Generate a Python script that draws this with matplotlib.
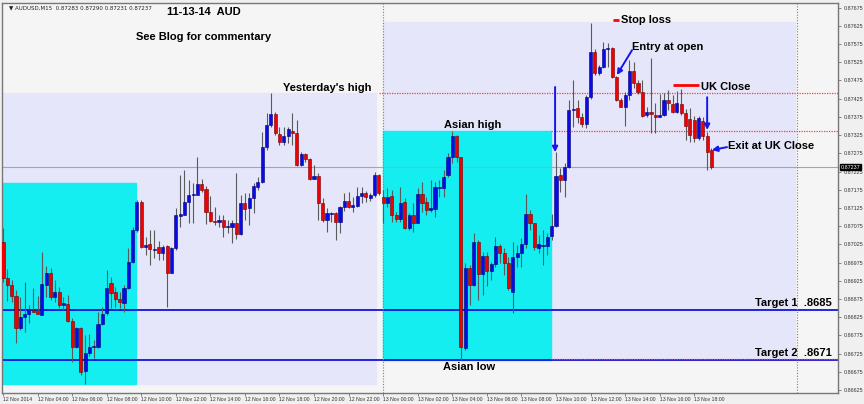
import numpy as np
import matplotlib
matplotlib.use("Agg")
import matplotlib.pyplot as plt
from matplotlib.patches import Rectangle

# AUDUSD M15, 12 Nov 02:00 -> 13 Nov 19:00, prices in 1e-5 units
opens = [87032, 86933, 86914, 86883, 86796, 86826, 86834, 86845, 86842, 86831,
         86914, 86947, 86881, 86894, 86859, 86861, 86815, 86744, 86796, 86678,
         86727, 86744, 86744, 86807, 86837, 86919, 86894, 86875, 86864, 86905,
         86977, 87065, 87141, 87018, 87026, 87010, 87018, 87002, 87021, 86947,
         87015, 87103, 87106, 87141, 87161, 87161, 87191, 87177, 87114, 87089,
         87087, 87092, 87073, 87073, 87084, 87054, 87139, 87125, 87152, 87183,
         87196, 87292, 87353, 87383, 87328, 87306, 87323, 87336, 87331, 87243,
         87273, 87259, 87205, 87213, 87139, 87092, 87109, 87111, 87087, 87128,
         87144, 87128, 87130, 87158, 87166, 87152, 87161, 87216, 87155, 87139,
         87158, 87106, 87095, 87141, 87070, 87106, 87084, 87163, 87141, 87119,
         87122, 87180, 87180, 87216, 87265, 87323, 87265, 86741, 86960, 86914,
         87032, 86944, 86993, 86952, 86971, 87021, 87002, 86974, 86894, 86990,
         87002, 87026, 87109, 87084, 87015, 87021, 87021, 87048, 87076, 87216,
         87202, 87238, 87394, 87399, 87375, 87356, 87430, 87553, 87496, 87512,
         87561, 87564, 87485, 87421, 87402, 87435, 87501, 87468, 87443, 87380,
         87389, 87380, 87375, 87380, 87421, 87410, 87389, 87410, 87386, 87369,
         87367, 87317, 87364, 87323, 87283]
highs = [87070, 86958, 86927, 86900, 86881, 86922, 86859, 86905, 86883, 87004,
         86966, 86960, 86927, 86908, 86881, 86886, 86823, 86798, 86798, 86776,
         86779, 86763, 86840, 86853, 86955, 86936, 86908, 86894, 86914, 87015,
         87073, 87147, 87147, 87045, 87065, 87065, 87034, 87023, 87023, 87018,
         87125, 87216, 87229, 87202, 87194, 87265, 87205, 87185, 87158, 87128,
         87106, 87106, 87092, 87092, 87221, 87161, 87166, 87166, 87194, 87210,
         87334, 87386, 87441, 87389, 87347, 87347, 87347, 87386, 87367, 87279,
         87276, 87262, 87243, 87221, 87152, 87125, 87114, 87114, 87130, 87166,
         87169, 87155, 87183, 87183, 87172, 87166, 87224, 87218, 87174, 87180,
         87174, 87114, 87183, 87152, 87111, 87139, 87180, 87196, 87155, 87202,
         87196, 87202, 87229, 87276, 87336, 87325, 87265, 86974, 86969, 87056,
         87037, 87004, 87004, 86977, 87045, 87026, 87015, 86990, 87032, 87023,
         87043, 87163, 87119, 87084, 87051, 87065, 87056, 87109, 87279, 87235,
         87249, 87421, 87476, 87421, 87386, 87435, 87633, 87561, 87518, 87581,
         87578, 87567, 87487, 87427, 87443, 87531, 87526, 87476, 87476, 87402,
         87537, 87413, 87438, 87441, 87449, 87435, 87446, 87452, 87397, 87399,
         87378, 87378, 87375, 87334, 87290]
lows = [86922, 86870, 86867, 86754, 86790, 86785, 86809, 86840, 86834, 86831,
        86881, 86872, 86867, 86850, 86845, 86812, 86702, 86741, 86667, 86642,
        86719, 86713, 86741, 86804, 86831, 86850, 86853, 86850, 86840, 86903,
        86974, 87059, 87015, 86996, 86969, 86988, 86982, 86982, 86853, 86947,
        87010, 87073, 87106, 87084, 87084, 87161, 87169, 87081, 87087, 87078,
        87073, 87045, 87056, 87029, 87040, 87051, 87092, 87078, 87111, 87174,
        87194, 87284, 87347, 87325, 87298, 87298, 87303, 87298, 87240, 87240,
        87251, 87202, 87205, 87092, 87087, 87059, 87087, 87037, 87056, 87117,
        87125, 87114, 87128, 87139, 87141, 87144, 87155, 87161, 87084, 87128,
        87087, 87087, 87087, 87067, 87065, 87059, 87084, 87114, 87106, 87114,
        87100, 87155, 87155, 87210, 87249, 87251, 86708, 86735, 86859, 86911,
        86872, 86886, 86911, 86927, 86963, 86974, 86941, 86900, 86837, 86963,
        86963, 87015, 87065, 87010, 87002, 86969, 86996, 87037, 87073, 87169,
        87155, 87235, 87347, 87358, 87347, 87345, 87424, 87490, 87490, 87509,
        87512, 87482, 87419, 87402, 87350, 87421, 87454, 87438, 87375, 87375,
        87331, 87331, 87375, 87378, 87394, 87386, 87386, 87380, 87312, 87306,
        87306, 87312, 87312, 87229, 87231]
closes = [86933, 86914, 86883, 86796, 86826, 86834, 86848, 86840, 86834, 86916,
          86947, 86881, 86894, 86859, 86864, 86815, 86744, 86796, 86675, 86727,
          86744, 86746, 86807, 86834, 86905, 86892, 86875, 86867, 86905, 86977,
          87065, 87141, 87018, 87023, 87012, 87012, 87002, 87018, 86947, 87015,
          87106, 87109, 87141, 87161, 87163, 87191, 87174, 87114, 87089, 87087,
          87092, 87073, 87076, 87084, 87054, 87139, 87122, 87152, 87185, 87196,
          87292, 87353, 87383, 87331, 87306, 87323, 87342, 87331, 87243, 87273,
          87259, 87205, 87213, 87139, 87092, 87111, 87111, 87087, 87128, 87144,
          87128, 87133, 87158, 87166, 87155, 87161, 87216, 87166, 87139, 87155,
          87106, 87095, 87139, 87070, 87106, 87084, 87163, 87139, 87119, 87125,
          87183, 87183, 87210, 87265, 87323, 87265, 86744, 86960, 86914, 87032,
          86944, 86993, 86952, 86971, 87021, 87002, 86974, 86905, 86990, 87002,
          87026, 87109, 87084, 87018, 87026, 87023, 87045, 87076, 87213, 87202,
          87238, 87394, 87397, 87375, 87356, 87430, 87553, 87496, 87512, 87561,
          87564, 87485, 87421, 87402, 87435, 87501, 87468, 87443, 87378, 87389,
          87383, 87375, 87380, 87421, 87413, 87389, 87413, 87386, 87350, 87325,
          87317, 87372, 87323, 87279, 87237]

time_labels = ["12 Nov 2014", "12 Nov 04:00", "12 Nov 06:00", "12 Nov 08:00",
               "12 Nov 10:00", "12 Nov 12:00", "12 Nov 14:00", "12 Nov 16:00",
               "12 Nov 18:00", "12 Nov 20:00", "12 Nov 22:00", "13 Nov 00:00",
               "13 Nov 02:00", "13 Nov 04:00", "13 Nov 06:00", "13 Nov 08:00",
               "13 Nov 10:00", "13 Nov 12:00", "13 Nov 14:00", "13 Nov 16:00",
               "13 Nov 18:00"]
bars_per_label = 8

# levels
yest_high, yest_low = 0.87441, 0.86642
asian_high, asian_low = 0.87336, 0.86708
target1, target2 = 0.86845, 0.86708
prev_asian_top = 0.87193
today_top = 0.87635
bid = 0.87237
stop_loss = 0.87641
uk_close = 0.87463
day_start = 88        # 13 Nov 00:00
asian_end = 126.9
today_end = 183.3
shift_line = 183.8

o = np.array(opens) / 1e5
h = np.array(highs) / 1e5
l = np.array(lows) / 1e5
c = np.array(closes) / 1e5
x = np.arange(len(o))

fig = plt.figure(figsize=(8.64, 4.04), dpi=100, facecolor="#f0f0f0")
ax = fig.add_axes([2 / 864, 11 / 404, 836 / 864, 390.5 / 404])
ax.set_facecolor("#f5f5f5")
ax.set_xlim(-0.23, 193.29)
ax.set_ylim(0.86617, 0.87689)

lav = "#e6e6fa"
cyan = "#14eef0"
ax.add_patch(Rectangle((-0.5, yest_low), day_start - 1.2, yest_high - yest_low, color=lav, zorder=0))
ax.add_patch(Rectangle((-0.5, yest_low), 31.3, prev_asian_top - yest_low, color=cyan, zorder=1))
ax.add_patch(Rectangle((day_start, asian_low), today_end - day_start, today_top - asian_low, color=lav, zorder=0))
ax.add_patch(Rectangle((day_start, asian_low), asian_end - day_start, asian_high - asian_low, color=cyan, zorder=1))

# level lines
ax.axhline(target1, color="#0000dd", lw=1.2, zorder=2)
ax.axhline(target2, color="#0000dd", lw=1.2, zorder=2)
ax.axhline(bid, color="#a0a4b4", lw=0.8, zorder=2)
red_dot = dict(color="#ff3a3a", lw=0.9, ls=(0, (1, 1)), zorder=2)
ax.hlines(yest_high, day_start - 1, 193.3, **red_dot)
ax.hlines(asian_high, asian_end, 193.3, **red_dot)
ax.hlines(asian_low + 0.00002, asian_end, 193.3, **red_dot)
ax.axvline(day_start, color="#808080", lw=0.8, ls=(0, (1, 1.5)), zorder=2)
ax.axvline(shift_line, color="#808080", lw=0.8, ls=(0, (1, 1.5)), zorder=2)

# candles
up = c >= o
ax.vlines(x, l, h, color="#5a5a5a", lw=0.8, zorder=3)
body_lo = np.minimum(o, c)
body_h = np.maximum(np.abs(c - o), 0.00002)
ax.bar(x[up], body_h[up], bottom=body_lo[up], width=0.72, color="#0a0ae6",
       edgecolor="#000070", lw=0.4, zorder=4)
ax.bar(x[~up], body_h[~up], bottom=body_lo[~up], width=0.72, color="#f00000",
       edgecolor="#700000", lw=0.4, zorder=4)

# annotations
fnt = dict(fontsize=8, fontweight="bold", family="Liberation Sans", color="black", zorder=6)
ax.text(38.0, 0.87663, "11-13-14  AUD", va="center", **fnt)
ax.text(30.8, 0.87594, "See Blog for commentary", va="center", **fnt)
ax.text(64.8, 0.87454, "Yesterday's high", va="center", **fnt)
ax.text(102.1, 0.87352, "Asian high", va="center", **fnt)
ax.text(101.9, 0.86688, "Asian low", va="center", **fnt)
ax.text(143.1, stop_loss, "Stop loss", va="center", **fnt)
ax.text(145.6, 0.87567, "Entry at open", va="center", **fnt)
ax.text(161.6, 0.87457, "UK Close", va="center", **fnt)
ax.text(167.8, 0.87295, "Exit at UK Close", va="center", **fnt)
ax.text(191.9, target1 + 0.00019, "Target 1  .8685", va="center", ha="right", **fnt)
ax.text(191.9, target2 + 0.00019, "Target 2  .8671", va="center", ha="right", **fnt)

ax.hlines(stop_loss, 141.2, 142.6, color="red", lw=2, zorder=5)
ax.hlines(uk_close, 155.1, 161.1, color="red", lw=2, zorder=5)

arw = dict(arrowstyle="-|>", color="#1515f0", lw=1.4, mutation_scale=8, shrinkA=0, shrinkB=0)
ax.annotate("", xy=(142.1, 0.87490), xytext=(145.6, 0.87558), arrowprops=arw, zorder=6)
ax.annotate("", xy=(127.8, 0.87278), xytext=(127.8, 0.87457), arrowprops=arw, zorder=6)
ax.annotate("", xy=(163.0, 0.87339), xytext=(163.0, 0.87429), arrowprops=arw, zorder=6)
ax.annotate("", xy=(164.1, 0.87284), xytext=(167.6, 0.87292), arrowprops=arw, zorder=6)

# header
ax.text(0.008, 0.992, "\u25bc AUDUSD,M15  %.5f %.5f %.5f %.5f" % (o[-1], h[-1], l[-1], c[-1]),
        transform=ax.transAxes, fontsize=4, va="top", color="#222222")

# axes styling
small = dict(family="Liberation Sans", color="#333333")
ax.yaxis.tick_right()
yt = np.arange(0.86625, 0.87676, 0.0005)
ax.set_yticks(yt)
ax.set_yticklabels(["%.5f" % v for v in yt], fontsize=3.9, **small)
ax.tick_params(axis="y", length=2.5, width=0.5, pad=1.5, color="#555555")
ax.set_xticks(np.arange(len(time_labels)) * bars_per_label)
ax.set_xticklabels(time_labels, fontsize=3.7, ha="left", **small)
ax.tick_params(axis="x", length=2, width=0.5, pad=1, color="#555555")
for s in ax.spines.values():
    s.set_color("#777777")
    s.set_linewidth(1.0)

ax.text(1.003, bid, "%.5f" % bid, transform=ax.get_yaxis_transform(), fontsize=3.9,
        family="Liberation Sans", color="white", va="center", ha="left",
        bbox=dict(boxstyle="square,pad=0.15", fc="black", ec="black"), clip_on=False, zorder=7)

fig.savefig("out.png", dpi=100, facecolor=fig.get_facecolor())
